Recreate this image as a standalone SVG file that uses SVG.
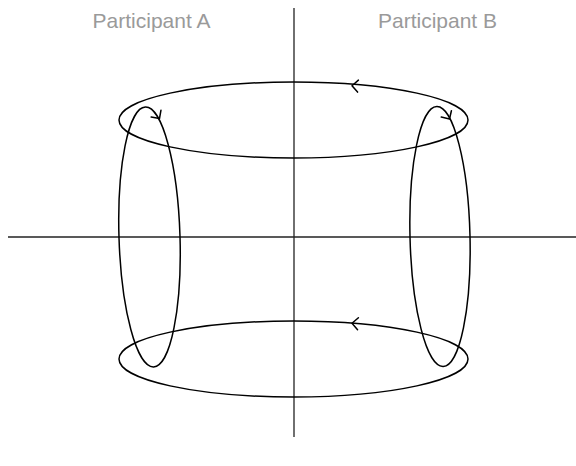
<svg xmlns="http://www.w3.org/2000/svg" width="576" height="466" viewBox="0 0 576 466">
  <style>
    .axis { stroke: #222; stroke-width: 1.3; fill: none; }
    .loop { stroke: #000; stroke-width: 1.5; fill: none; }
    .head { stroke: #000; stroke-width: 1.5; fill: none; stroke-linecap: round; stroke-linejoin: round; }
    .label { font-family: "Liberation Sans", Arial, sans-serif; font-size: 21px; fill: #9a9a9a; text-anchor: middle; }
  </style>
  <rect width="576" height="466" fill="#fff"/>
  <g id="axes">
    <line class="axis" x1="294" y1="8" x2="294" y2="437"/>
    <line class="axis" x1="8" y1="237" x2="576" y2="237"/>
  </g>
  <g id="labels">
    <text class="label" x="151.5" y="27.5">Participant A</text>
    <text class="label" x="437.5" y="27.5">Participant B</text>
  </g>
  <g id="loops">
    <ellipse class="loop" cx="293.5" cy="120" rx="174.5" ry="38"/>
    <ellipse class="loop" cx="293.5" cy="359" rx="174.5" ry="38"/>
    <ellipse class="loop" cx="149.5" cy="237" rx="30.5" ry="130" transform="rotate(-1.8 149.5 237)"/>
    <ellipse class="loop" cx="440" cy="236.5" rx="30" ry="130" transform="rotate(-1.4 440 236.5)"/>
  </g>
  <g id="arrowheads">
    <path class="head" d="M-6,-6 L0,0 L-6,6" transform="translate(352 85.7) rotate(184)"/>
    <path class="head" d="M-6,-6 L0,0 L-6,6" transform="translate(352 323.3) rotate(184)"/>
    <path class="head" d="M-6,-6 L0,0 L-6,6" transform="translate(159.5 118.5) rotate(55)"/>
    <path class="head" d="M-6,-6 L0,0 L-6,6" transform="translate(449.5 119) rotate(58)"/>
  </g>
</svg>
